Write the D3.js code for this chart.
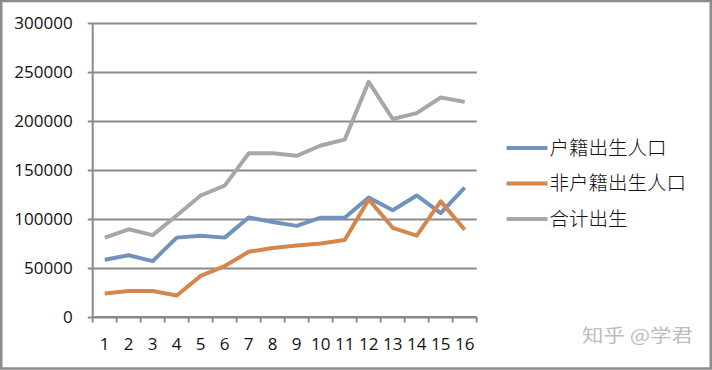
<!DOCTYPE html>
<html>
<head>
<meta charset="utf-8">
<script src="https://cdn.jsdelivr.net/npm/d3@7"></script>
<style>
  html, body { margin: 0; padding: 0; background: #ffffff; }
  svg { display: block; }
</style>
</head>
<body>
<svg id="chart" width="712" height="370"></svg>
<script>
const categories = ["1","2","3","4","5","6","7","8","9","10","11","12","13","14","15","16"];
const yTicks = [0, 50000, 100000, 150000, 200000, 250000, 300000];
const seriesNames = ["户籍出生人口", "非户籍出生人口", "合计出生"];
const huji    = [58500, 63000, 57000, 81000, 83000, 81000, 101500, 97000, 93000, 101300, 101300, 122000, 109000, 124000, 106000, 132000];
const feihuji = [24000, 26500, 26500, 22000, 42000, 52000, 66500, 70500, 73000, 75000, 78500, 120000, 91000, 83000, 118000, 89000];
const total   = [81000, 89500, 83500, 103500, 124000, 134000, 167000, 167000, 164500, 175000, 181000, 240000, 202000, 208000, 224000, 219500];
const watermark = "知乎 @学君";

(function () {
const colors = ["#6f93bc", "#d4864f", "#a7a7a7"];
const seriesData = [huji, feihuji, total];

const svg = d3.select("#chart");
const pL = 92.7, pR = 476.7, pT = 23, pB = 317;
const axisColor = "#8a8a8a";
const numFont = "'Open Sans', 'Liberation Sans', sans-serif";
const cjkFont = "'Noto Sans CJK SC', sans-serif";

const x = d3.scaleBand().domain(categories).range([pL, pR]).padding(0);
const y = d3.scaleLinear().domain([0, 300000]).range([pB, pT]);

// frame
svg.append("rect").attr("x", 1.25).attr("y", 1).attr("width", 709.5).attr("height", 367.5)
  .attr("fill", "#ffffff").attr("stroke", "#8c8c8c").attr("stroke-width", 2.5);

// gridlines
const grid = svg.append("g").attr("transform", `translate(${pL},0)`)
  .call(d3.axisLeft(y).tickValues(yTicks).tickSize(-(pR - pL)).tickFormat(""));
grid.select(".domain").remove();
grid.selectAll("line").attr("stroke", axisColor).attr("stroke-width", 2);

// y axis
const yAxis = svg.append("g").attr("transform", `translate(${pL},0)`)
  .call(d3.axisLeft(y).tickValues(yTicks).tickSize(5).tickPadding(15).tickFormat(d3.format("d")));
yAxis.select(".domain").attr("stroke", axisColor).attr("stroke-width", 2).attr("d", `M0,${pT}V${pB}`);
yAxis.selectAll("line").attr("stroke", axisColor).attr("stroke-width", 2);
yAxis.selectAll("text").attr("font-family", numFont).attr("font-size", 17).attr("fill", "#111");

// x axis (labels at band centers, tick marks at band boundaries)
const xAxis = svg.append("g").attr("transform", `translate(0,${pB})`)
  .call(d3.axisBottom(x).tickSize(0).tickPadding(21));
xAxis.select(".domain").remove();
xAxis.selectAll("text").attr("font-family", numFont).attr("font-size", 17).attr("fill", "#111");
const bounds = categories.map(c => x(c)).concat([x(categories[categories.length - 1]) + x.bandwidth()]);
svg.append("g").selectAll("line").data(bounds).join("line")
  .attr("x1", d => d).attr("x2", d => d).attr("y1", pB).attr("y2", pB + 5.5)
  .attr("stroke", axisColor).attr("stroke-width", 2);
svg.append("line").attr("x1", pL).attr("x2", pR).attr("y1", pB).attr("y2", pB)
  .attr("stroke", axisColor).attr("stroke-width", 2);

// series lines
const line = d3.line()
  .x((d, i) => x(categories[i]) + x.bandwidth() / 2)
  .y(d => y(d));
seriesData.forEach((s, k) => {
  svg.append("path").datum(s).attr("d", line)
    .attr("fill", "none").attr("stroke", colors[k]).attr("stroke-width", 4)
    .attr("stroke-linejoin", "round").attr("stroke-linecap", "butt");
});

// legend
const legendY = [148, 183.5, 219];
const lg = svg.append("g");
seriesNames.forEach((name, k) => {
  lg.append("line").attr("x1", 506.5).attr("x2", 547.5).attr("y1", legendY[k]).attr("y2", legendY[k])
    .attr("stroke", colors[k]).attr("stroke-width", 4);
  lg.append("text").attr("x", 549.5).attr("y", legendY[k]).attr("dy", "0.35em")
    .attr("font-family", cjkFont).attr("font-size", 19.5).attr("font-weight", 300)
    .attr("fill", "#111").text(name);
});

// watermark
svg.append("text").attr("x", 582).attr("y", 336).attr("dy", "0.35em")
  .attr("font-family", cjkFont).attr("font-size", 18).attr("fill", "#bdbdbd")
  .attr("textLength", 111).attr("lengthAdjust", "spacingAndGlyphs")
  .text(watermark);
})();
</script>
</body>
</html>
